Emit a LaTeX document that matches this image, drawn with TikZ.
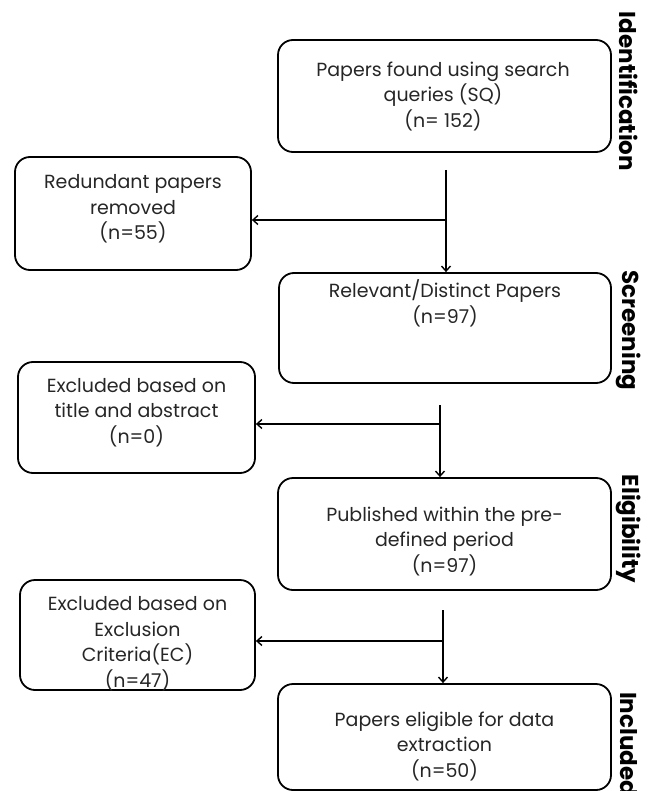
\documentclass[tikz,border=0pt]{standalone}
\usepackage{fontspec}
\setmainfont{Poppins}
\usetikzlibrary{arrows.meta}
\begin{document}
\begin{tikzpicture}[x=1pt,y=-1pt,
  box/.style={draw=black, line width=1.8pt, rounded corners=15pt, rectangle, inner sep=0pt},
  txt/.style={align=center, inner sep=0pt, text=black!85, font=\fontsize{19}{25.5}\selectfont},
  side/.style={rotate=-90, inner sep=0pt, font=\fontsize{23}{24}\selectfont\bfseries, text=black},
  conn/.style={draw=black, line width=1.6pt},
  arr/.style={conn, -{Straight Barb[length=5pt,width=9pt,line width=1.4pt]}}]
\useasboundingbox (0,0) rectangle (650,791);
\clip (0,0) rectangle (650,791);
% boxes
\node[box, minimum width=333pt, minimum height=112pt] (b1) at (444.5,96) {};
\node[box, minimum width=236pt, minimum height=113pt] (red) at (133,213.5) {};
\node[box, minimum width=332pt, minimum height=110pt] (rel) at (445,328) {};
\node[box, minimum width=237pt, minimum height=111pt] (ex1) at (136.5,417.5) {};
\node[box, minimum width=333pt, minimum height=112pt] (pub) at (444.5,534) {};
\node[box, minimum width=235pt, minimum height=110pt] (ex2) at (137.5,635) {};
\node[box, minimum width=333pt, minimum height=106pt] (inc) at (444.5,737) {};
% texts
\node[txt] (b1t) at (443,96.5) {Papers found using search\\queries (SQ)\\(n= 152)};
\node[txt] (redt) at (133,209) {Redundant papers\\removed\\(n=55)};
\node[txt] (relt) at (445,303.5) {Relevant/Distinct Papers\\(n=97)};
\node[txt] (ex1t) at (136.5,412.5) {Excluded based on\\title and abstract\\(n=0)};
\node[txt] (pubt) at (444.5,541.5) {Published within the pre-\\defined period\\(n=97)};
\node[txt] (ex2t) at (137.5,643.5) {Excluded based on\\Exclusion\\Criteria(EC)\\(n=47)};
\node[txt] (inct) at (444.5,746) {Papers eligible for data\\extraction\\(n=50)};
% side labels
\node[side] (s1) at (629,91.5) {Identification};
\node[side] (s2) at (629,330.5) {Screening};
\node[side] (s3) at (629,529) {Eligibility};
\node[side, anchor=west] (s4) at (629,692) {Included};
% connectors
\coordinate (t1) at (446,170);
\coordinate (j1) at (446,220);
\draw[arr] (t1) -- (t1 |- rel.north);
\draw[arr] (j1) -- (j1 -| red.east);
\coordinate (t2) at (440,405);
\coordinate (j2) at (440,424);
\draw[arr] (t2) -- (t2 |- pub.north);
\draw[arr] (j2) -- (j2 -| ex1.east);
\coordinate (t3) at (443,610);
\coordinate (j3) at (443,641);
\draw[arr] (t3) -- (t3 |- inc.north);
\draw[arr] (j3) -- (j3 -| ex2.east);
\end{tikzpicture}
\end{document}
